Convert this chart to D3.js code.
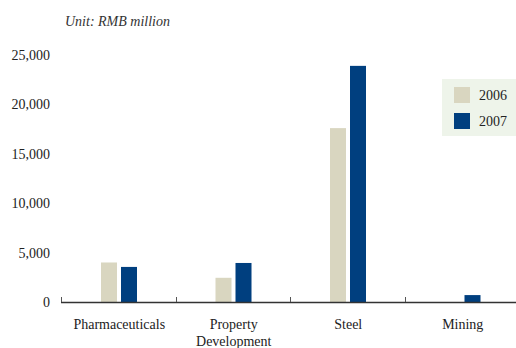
<!DOCTYPE html>
<html><head><meta charset="utf-8">
<script src="https://cdn.jsdelivr.net/npm/d3@7"></script>
<style>
html,body{margin:0;padding:0;background:#fff;}
svg{display:block;font-family:"Liberation Serif","Times New Roman",serif;}
</style></head>
<body>
<svg id="chart" width="516" height="348"></svg>
<script>
const categories = ["Pharmaceuticals", "Property\nDevelopment", "Steel", "Mining"];
const seriesNames = ["2006", "2007"];
const values2006 = [4000, 2450, 17600, 0];
const values2007 = [3550, 3950, 23900, 700];
const yTicks = [0, 5000, 10000, 15000, 20000, 25000];
const colors = ["#d9d6c0", "#003f7f"];
const unitLabel = "Unit: RMB million";

const svg = d3.select("#chart");
const x0 = 61, x1 = 519, yBase = 302, yTop = 55;

const x = d3.scaleBand().domain(categories).range([x0, x1]).paddingInner(0).paddingOuter(0);
const y = d3.scaleLinear().domain([0, 25000]).range([yBase, yTop]);
const xs = d3.scaleBand().domain(seriesNames).range([40, 76]).paddingInner(0.2).paddingOuter(0);

const data = categories.map((c, i) => ({cat: c, vals: [values2006[i], values2007[i]]}));

// unit label
svg.append("text").attr("x", 65).attr("y", 26).attr("font-style", "italic")
  .attr("font-size", 14).attr("fill", "#333").text(unitLabel);

// y tick labels
svg.selectAll(".ylab").data(yTicks).join("text")
  .attr("x", 50).attr("y", d => y(d) + 5)
  .attr("text-anchor", "end").attr("font-size", 14).attr("fill", "#222")
  .text(d => d3.format(",")(d));

// bars
const g = svg.selectAll(".cat").data(data).join("g").attr("transform", d => `translate(${x(d.cat)},0)`);
g.selectAll("rect").data(d => d.vals.map((v, j) => ({v, s: seriesNames[j], j})))
  .join("rect")
  .attr("x", d => xs(d.s)).attr("width", xs.bandwidth())
  .attr("y", d => y(d.v)).attr("height", d => yBase - y(d.v))
  .attr("fill", d => colors[d.j]);

// axis line
svg.append("line").attr("x1", x0).attr("x2", 516).attr("y1", yBase + 0.5).attr("y2", yBase + 0.5)
  .attr("stroke", "#333").attr("stroke-width", 1.5);
// ticks at category boundaries
svg.selectAll(".tk").data(categories).join("line")
  .attr("x1", d => Math.round(x(d)) + 0.5).attr("x2", d => Math.round(x(d)) + 0.5)
  .attr("y1", yBase - 5).attr("y2", yBase)
  .attr("stroke", "#555").attr("stroke-width", 1);

// category labels
svg.selectAll(".clab").data(categories).join("text")
  .attr("text-anchor", "middle").attr("font-size", 14).attr("fill", "#222")
  .attr("transform", d => `translate(${x(d) + x.bandwidth() / 2 + 1},329)`)
  .each(function(d) {
    const lines = d.split("\n");
    d3.select(this).selectAll("tspan").data(lines).join("tspan")
      .attr("x", 0).attr("dy", (l, i) => i === 0 ? 0 : 17).text(l => l);
  });

// legend
const lg = svg.append("g");
lg.append("rect").attr("x", 442).attr("y", 79).attr("width", 80).attr("height", 57).attr("fill", "#eef4ea");
seriesNames.forEach((s, i) => {
  lg.append("rect").attr("x", 454).attr("y", 87 + i * 26).attr("width", 16).attr("height", 16).attr("fill", colors[i]);
  lg.append("text").attr("x", 479).attr("y", 100 + i * 26).attr("font-size", 14).attr("fill", "#222").text(s);
});
</script>
</body></html>
